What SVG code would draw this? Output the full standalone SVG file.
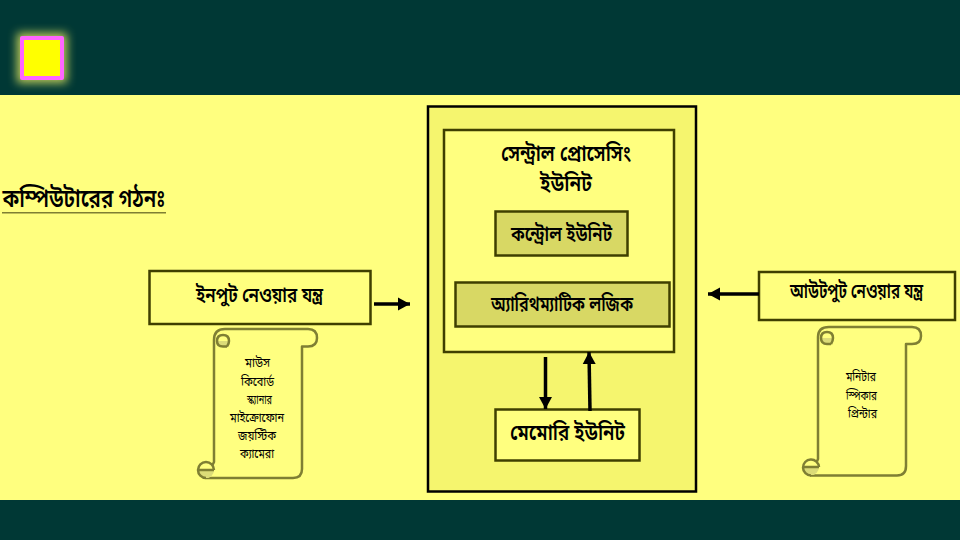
<svg xmlns="http://www.w3.org/2000/svg" width="960" height="540" viewBox="0 0 960 540">
<style>
text{font-family:"Noto Sans Bengali","Noto Serif Bengali","Noto Sans","Liberation Sans",sans-serif;text-anchor:middle;fill:#000;font-weight:600}
.b{font-size:22px}
.m{font-size:21px}
.s{font-size:13px;font-weight:400}
.box{stroke:#3f3f00;stroke-width:2.5}
.scroll{fill:#ffff80;stroke:#7f7f33;stroke-width:2.5;stroke-linejoin:round}
.line{fill:none;stroke:#7f7f33;stroke-width:2.5}
.fill{fill:#dcdc78;stroke:none}
.ar{stroke:#000;stroke-width:3.500;fill:none;marker-end:url(#h)}
</style>
<defs>
<marker id="h" markerUnits="userSpaceOnUse" markerWidth="14" markerHeight="14" refX="12" refY="7" orient="auto"><path d="M0 0.500L12 7L0 13.500Z" fill="#000"/></marker>
<filter id="glow" x="-40%" y="-40%" width="180%" height="180%"><feGaussianBlur stdDeviation="5"/></filter>
</defs>
<rect width="960" height="540" fill="#ffff7f"/>
<rect id="header" width="960" height="95" fill="#003835"/>
<rect id="footer" y="500" width="960" height="40" fill="#003835"/>
<g id="logo">
<rect x="17" y="33" width="50" height="50" fill="#ffff66" opacity=".75" filter="url(#glow)"/>
<rect x="22" y="38" width="40" height="40" fill="#ffff00" stroke="#ff66ff" stroke-width="4" stroke-linejoin="round"/>
</g>
<g id="title">
<text x="84" y="207" font-size="26" textLength="163" lengthAdjust="spacingAndGlyphs">কম্পিউটারের গঠনঃ</text>
<rect x="2" y="212" width="164" height="1.500" fill="#7f7f33"/>
</g>
<g id="cpu-outer"><rect x="428" y="106.500" width="268" height="385" fill="#f5f56e" stroke="#000" stroke-width="2.500"/></g>
<g id="cpu"><rect class="box" x="444" y="130" width="230" height="222" fill="#ffff7f"/>
<text class="b" x="566" y="161" textLength="130" lengthAdjust="spacingAndGlyphs">সেন্ট্রাল প্রোসেসিং</text>
<text class="b" x="566" y="191" textLength="52" lengthAdjust="spacingAndGlyphs">ইউনিট</text></g>
<g id="control"><rect class="box" x="495.500" y="211.500" width="132" height="44" fill="#d8d864"/>
<text class="m" x="561.500" y="241" textLength="101" lengthAdjust="spacingAndGlyphs">কন্ট্রোল ইউনিট</text></g>
<g id="alu"><rect class="box" x="455.500" y="282.500" width="214" height="44" fill="#d8d864"/>
<text class="m" x="562" y="311" textLength="142" lengthAdjust="spacingAndGlyphs">অ্যারিথম্যাটিক লজিক</text></g>
<g id="memory"><rect class="box" x="495.500" y="409.500" width="144" height="51" fill="#ffff7f"/>
<text class="b" x="567.500" y="440" textLength="115" lengthAdjust="spacingAndGlyphs">মেমোরি ইউনিট</text></g>
<g id="input"><rect class="box" x="149.500" y="271" width="221" height="53" fill="#ffff7f"/>
<text class="m" x="259.500" y="302" textLength="127" lengthAdjust="spacingAndGlyphs">ইনপুট নেওয়ার যন্ত্র</text></g>
<g id="output"><rect class="box" x="759" y="272" width="196" height="48" fill="#ffff7f"/>
<text class="m" x="856.500" y="298" textLength="133" lengthAdjust="spacingAndGlyphs">আউটপুট নেওয়ার যন্ত্র</text></g>
<g id="input-devices">
<path class="scroll" d="M214 340V462L206 478H293Q302 478 302 469V346.500H308Q317 346.500 317 338Q317 329 308 329H225Q214 329 214 340Z"/>
<path class="fill" d="M217 341H229Q229 346.500 224 346.500Q217 346.500 217 341Z"/>
<path class="line" d="M227 346.500Q229 344 229 341Q229 335 223 335Q217 335 217 341Q217 346.500 223 346.500H227"/>
<circle cx="206" cy="470" r="8" fill="#ffff80"/>
<path class="fill" d="M198 470A8 8 0 0 0 214 470Z"/>
<path class="line" d="M214 470A8 8 0 1 0 206 478M198 470H214"/>
<text class="s" x="257.500" y="367" textLength="25" lengthAdjust="spacingAndGlyphs">মাউস</text>
<text class="s" x="257.500" y="386" textLength="33" lengthAdjust="spacingAndGlyphs">কিবোর্ড</text>
<text class="s" x="259.500" y="404" textLength="25" lengthAdjust="spacingAndGlyphs">স্ক্যানার</text>
<text class="s" x="257" y="422" textLength="54" lengthAdjust="spacingAndGlyphs">মাইক্রোফোন</text>
<text class="s" x="257" y="440" textLength="38" lengthAdjust="spacingAndGlyphs">জয়স্টিক</text>
<text class="s" x="257" y="458" textLength="34" lengthAdjust="spacingAndGlyphs">ক্যামেরা</text>
</g>
<g id="output-devices">
<path class="scroll" d="M818 337V459L811 475.500H897Q906 475.500 906 466V344H912Q921 344 921 336Q921 327 912 327H829Q818 327 818 337Z"/>
<path class="fill" d="M821 338H833Q833 344 828 344Q821 344 821 338Z"/>
<path class="line" d="M831 344Q833 341 833 338Q833 332 827 332Q821 332 821 338Q821 344 827 344H831"/>
<circle cx="811" cy="467" r="8" fill="#ffff80"/>
<path class="fill" d="M803 467A8 8 0 0 0 819 467Z"/>
<path class="line" d="M819 467A8 8 0 1 0 811 475.500M803 467H819"/>
<text class="s" x="861" y="381" textLength="30" lengthAdjust="spacingAndGlyphs">মনিটার</text>
<text class="s" x="861.500" y="400" textLength="31" lengthAdjust="spacingAndGlyphs">স্পিকার</text>
<text class="s" x="862.500" y="418" textLength="29" lengthAdjust="spacingAndGlyphs">প্রিন্টার</text>
</g>
<g id="connectors">
<path class="ar" d="M374 304H410"/>
<path class="ar" d="M759 294H708"/>
<path class="ar" d="M545.500 357V409"/>
<path class="ar" d="M590 411L589 352"/>
</g>
</svg>
